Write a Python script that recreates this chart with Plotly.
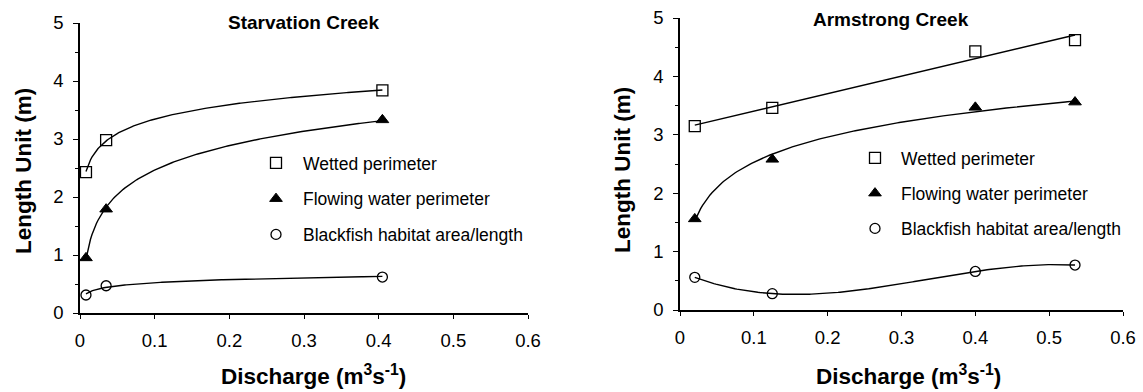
import numpy as np
import plotly.graph_objects as go

W, H = 1143, 392

# ---------------- data ----------------
series_names = ["Wetted perimeter", "Flowing water perimeter", "Blackfish habitat area/length"]

starv_q = [0.008, 0.035, 0.405]
starv_wetted = [2.43, 2.98, 3.84]
starv_flowing = [0.95, 1.79, 3.33]
starv_blackfish = [0.31, 0.47, 0.62]

arm_q = [0.02, 0.125, 0.40, 0.535]
arm_wetted = [3.15, 3.46, 4.43, 4.62]
arm_flowing = [1.56, 2.58, 3.47, 3.56]
arm_blackfish = [0.56, 0.28, 0.66, 0.77]

x_ticks = [0, 0.1, 0.2, 0.3, 0.4, 0.5, 0.6]
y_ticks = [0, 1, 2, 3, 4, 5]
titles = ["Starvation Creek", "Armstrong Creek"]


def xp(px):
    return px / W


def yp(py):
    return 1 - py / H


def log_fit(x, y):
    x = np.asarray(x, float)
    b, a = np.polyfit(np.log(x), np.asarray(y, float), 1)
    xs = np.linspace(x.min(), x.max(), 200)
    return xs, a + b * np.log(xs)


def poly_fit(x, y, deg):
    x = np.asarray(x, float)
    c = np.polyfit(x, np.asarray(y, float), deg)
    xs = np.linspace(x.min(), x.max(), 200)
    return xs, np.polyval(c, xs)


fig = go.Figure()

marker_styles = [
    dict(symbol="square-open", size=11, color="black", line=dict(width=1.3, color="black")),
    dict(symbol="triangle-up", size=11, color="black", line=dict(width=1, color="black")),
    dict(symbol="circle-open", size=10, color="black", line=dict(width=1.3, color="black")),
]

line_style = dict(color="black", width=1.4)

# left panel curves
for ys in [starv_wetted, starv_flowing, starv_blackfish]:
    cx, cy = log_fit(starv_q, ys)
    fig.add_trace(go.Scatter(x=cx, y=cy, mode="lines", line=line_style, showlegend=False,
                             xaxis="x", yaxis="y", hoverinfo="skip"))
# right panel curves
cx, cy = poly_fit(arm_q, arm_wetted, 1)
fig.add_trace(go.Scatter(x=cx, y=cy, mode="lines", line=line_style, showlegend=False,
                         xaxis="x2", yaxis="y2", hoverinfo="skip"))
cx, cy = log_fit(arm_q, arm_flowing)
fig.add_trace(go.Scatter(x=cx, y=cy, mode="lines", line=line_style, showlegend=False,
                         xaxis="x2", yaxis="y2", hoverinfo="skip"))
cx, cy = poly_fit(arm_q, arm_blackfish, 3)
fig.add_trace(go.Scatter(x=cx, y=cy, mode="lines", line=line_style, showlegend=False,
                         xaxis="x2", yaxis="y2", hoverinfo="skip"))

# markers
for i, ys in enumerate([starv_wetted, starv_flowing, starv_blackfish]):
    fig.add_trace(go.Scatter(x=starv_q, y=ys, mode="markers", name=series_names[i],
                             marker=marker_styles[i], xaxis="x", yaxis="y", cliponaxis=False,
                             legend="legend", legendgroup="L%d" % i))
for i, ys in enumerate([arm_wetted, arm_flowing, arm_blackfish]):
    fig.add_trace(go.Scatter(x=arm_q, y=ys, mode="markers", name=series_names[i],
                             marker=marker_styles[i], xaxis="x2", yaxis="y2", cliponaxis=False,
                             legend="legend2", legendgroup="R%d" % i))

FAM = "Liberation Sans, Arial, sans-serif"
tickfont = dict(family=FAM, size=18.5, color="black")

xcommon = dict(range=[0, 0.6], tickvals=x_ticks, ticktext=[str(t) for t in x_ticks],
               showgrid=False, zeroline=False, showline=True, linecolor="black", linewidth=1.6,
               ticks="outside", ticklen=4, tickwidth=1.3, tickcolor="black",
               tickfont=tickfont, ticklabelstandoff=6, automargin=False, fixedrange=True)
ycommon = dict(range=[0, 5], tickvals=y_ticks, showgrid=False, zeroline=False, showline=True,
               linecolor="black", linewidth=1.6, ticks="outside", ticklen=5, tickwidth=1.3,
               tickcolor="black", tickfont=tickfont, ticklabelstandoff=6, automargin=False,
               minor=dict(dtick=0.5, ticks="outside", ticklen=3, tickwidth=1, tickcolor="black",
                          showgrid=False),
               fixedrange=True)

legfont = dict(family=FAM, size=17.5, color="black")

fig.update_layout(
    width=W, height=H,
    margin=dict(l=0, r=0, t=0, b=0),
    paper_bgcolor="white", plot_bgcolor="white",
    xaxis=dict(domain=[xp(80), xp(528)], anchor="y", **xcommon),
    yaxis=dict(domain=[yp(313), yp(23)], anchor="x", **ycommon),
    xaxis2=dict(domain=[xp(680), xp(1123)], anchor="y2", **xcommon),
    yaxis2=dict(domain=[yp(310), yp(18)], anchor="x2", **ycommon),
    legend=dict(x=xp(249), y=yp(145), xanchor="left", yanchor="top", font=legfont,
                bgcolor="rgba(0,0,0,0)", traceorder="grouped", tracegroupgap=10,
                itemwidth=44),
    legend2=dict(x=xp(849), y=yp(140), xanchor="left", yanchor="top", font=legfont,
                 bgcolor="rgba(0,0,0,0)", traceorder="grouped", tracegroupgap=9.5,
                 itemwidth=42),
    showlegend=True,
)

titlefont = dict(family=FAM, size=19, color="black")
axfont = dict(family=FAM, size=22.5, color="black")

annots = [
    dict(text="<b>%s</b>" % titles[0], x=xp(303), y=yp(22)),
    dict(text="<b>%s</b>" % titles[1], x=xp(891), y=yp(20)),
]
for a in annots:
    a.update(xref="paper", yref="paper", showarrow=False, font=titlefont,
             xanchor="center", yanchor="middle")
    fig.add_annotation(**a)

for cx_, cy_ in [(313, 375), (908, 375)]:
    fig.add_annotation(text="<b>Discharge (m<sup>3</sup>s<sup>-1</sup>)</b>", x=xp(cx_), y=yp(cy_),
                       xref="paper", yref="paper", showarrow=False, font=axfont,
                       xanchor="center", yanchor="middle")
for cx_, cy_ in [(23, 171), (622, 170)]:
    fig.add_annotation(text="<b>Length Unit (m)</b>", x=xp(cx_), y=yp(cy_), textangle=-90,
                       xref="paper", yref="paper", showarrow=False, font=axfont,
                       xanchor="center", yanchor="middle")

fig.write_html("out.html", config={"displayModeBar": False},
               post_script="document.body.style.margin='0';document.body.style.overflow='hidden';")
